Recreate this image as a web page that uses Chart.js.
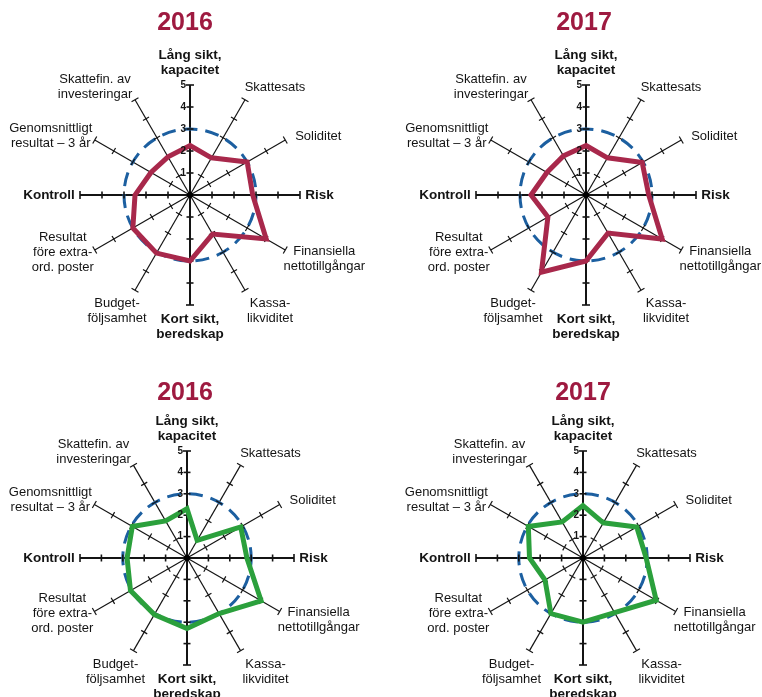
<!DOCTYPE html>
<html>
<head>
<meta charset="utf-8">
<script src="https://cdn.jsdelivr.net/npm/chart.js@4.4.1/dist/chart.umd.min.js"></script>
<style>
  body { margin: 0; background: #fff; }
  #wrap { position: relative; width: 762px; height: 697px; background: #fff; }
  canvas { position: absolute; }
</style>
</head>
<body>
<div id="wrap">
  <canvas id="c1" width="381" height="348" style="left:0;top:0"></canvas>
  <canvas id="c2" width="381" height="348" style="left:381px;top:0"></canvas>
  <canvas id="c3" width="381" height="348" style="left:0;top:349px"></canvas>
  <canvas id="c4" width="381" height="348" style="left:381px;top:349px"></canvas>
</div>
<script>
// axes, clockwise from the top
const labels = [
  ['Lång sikt,', 'kapacitet'],
  ['Skattesats'],
  ['Soliditet'],
  ['Risk'],
  ['Finansiella', 'nettotillgångar'],
  ['Kassa-', 'likviditet'],
  ['Kort sikt,', 'beredskap'],
  ['Budget-', 'följsamhet'],
  ['Resultat', 'före extra-', 'ord. poster'],
  ['Kontroll'],
  ['Genomsnittligt', 'resultat – 3 år'],
  ['Skattefin. av', 'investeringar']
];
const boldLabels = [0, 3, 6, 9];
const tickValues = [1, 2, 3, 4, 5];
const referenceLevel = 3;

const redValues2016 = [2.25, 1.95, 3.0, 2.85, 4.0, 2.05, 3.0, 3.05, 3.0, 2.5, 2.05, 2.0];
const redValues2017 = [2.25, 1.95, 2.95, 2.85, 4.0, 2.0, 3.0, 4.05, 2.0, 2.5, 2.05, 2.05];
const greenValues2016 = [2.3, 0.95, 2.9, 2.8, 4.0, 3.0, 3.3, 3.05, 3.05, 2.8, 2.95, 2.0];
const greenValues2017 = [2.45, 1.9, 2.9, 2.95, 3.95, 2.95, 3.0, 3.0, 2.05, 2.5, 2.95, 1.95];

const RED = '#a8284b';
const GREEN = '#2ba03c';
const BLUE = '#1c5fa0';
const TITLE = '#9e1a40';
const INK = '#141414';
const FONT = '"Liberation Sans", Arial, sans-serif';

// nudges of each label block centre from the end of its spoke
const labelNudge = [
  [0, -22.5], [30, -12], [33, -4], [19.5, 0], [39, 8.5], [25, 21],
  [0, 22], [-18, 21], [-32, 2], [-31, 0], [-44, -4.5], [-40, -13]
];

const radarDecor = {
  id: 'radarDecor',
  beforeDatasetsDraw(chart) {
    const s = chart.scales.r;
    const ctx = chart.ctx;
    ctx.save();
    // dashed reference circle
    ctx.strokeStyle = BLUE;
    ctx.lineWidth = 3;
    ctx.setLineDash([14, 8]);
    ctx.lineDashOffset = 4;
    ctx.beginPath();
    ctx.arc(s.xCenter, s.yCenter, s.getDistanceFromCenterForValue(referenceLevel), 0, Math.PI * 2);
    ctx.stroke();
    ctx.setLineDash([]);

    // small cross ticks on every spoke
    ctx.strokeStyle = INK;
    labels.forEach((_, i) => {
      const a = s.getIndexAngle(i) - Math.PI / 2;
      const nx = -Math.sin(a), ny = Math.cos(a);
      tickValues.forEach(v => {
        const p = s.getPointPositionForValue(i, v);
        const h = v === 5 ? 4 : 3.5;
        ctx.lineWidth = i % 3 === 0 ? 1.6 : 1.2;
        ctx.beginPath();
        ctx.moveTo(p.x - nx * h, p.y - ny * h);
        ctx.lineTo(p.x + nx * h, p.y + ny * h);
        ctx.stroke();
      });
    });
    ctx.restore();
  },
  afterDatasetsDraw(chart, args, opts) {
    const s = chart.scales.r;
    const ctx = chart.ctx;
    ctx.save();
    // centre dot
    ctx.fillStyle = '#000';
    ctx.beginPath();
    ctx.arc(s.xCenter, s.yCenter, 3, 0, Math.PI * 2);
    ctx.fill();

    // scale numbers beside the top spoke
    ctx.font = 'bold 10px ' + FONT;
    ctx.textAlign = 'right';
    ctx.textBaseline = 'middle';
    ctx.fillStyle = INK;
    tickValues.forEach(v => {
      const p = s.getPointPositionForValue(0, v);
      ctx.fillText(String(v), p.x - 4, p.y);
    });

    // axis names
    ctx.textAlign = 'center';
    labels.forEach((lines, i) => {
      const end = s.getPointPositionForValue(i, 5);
      const cx = end.x + labelNudge[i][0];
      const cy = end.y + labelNudge[i][1];
      const lh = 15;
      ctx.font = (boldLabels.includes(i) ? 'bold 13.5px ' : '13px ') + FONT;
      lines.forEach((t, k) => {
        ctx.fillText(t, cx, cy + (k - (lines.length - 1) / 2) * lh);
      });
    });

    // year heading
    ctx.font = 'bold 25px ' + FONT;
    ctx.fillStyle = TITLE;
    ctx.fillText(opts.title, opts.titleX, opts.titleY);
    ctx.restore();
  }
};

function makeRadar(id, values, color, title, g) {
  const W = 381, H = 348;
  return new Chart(document.getElementById(id), {
    type: 'radar',
    data: {
      labels: labels,
      datasets: [{
        data: values,
        borderColor: color,
        borderWidth: 5,
        backgroundColor: 'transparent',
        fill: false,
        pointRadius: 0,
        pointHoverRadius: 0,
        borderJoinStyle: 'miter'
      }]
    },
    options: {
      responsive: false,
      animation: false,
      devicePixelRatio: 1,
      layout: {
        padding: { left: g.cx - g.r, right: W - g.cx - g.r, top: g.cy - g.r, bottom: H - g.cy - g.r }
      },
      plugins: {
        legend: { display: false },
        tooltip: { enabled: false },
        radarDecor: { title: title, titleX: g.tx, titleY: g.ty }
      },
      scales: {
        r: {
          min: 0,
          max: 5,
          ticks: { display: false, stepSize: 1 },
          grid: { display: false },
          pointLabels: { display: false },
          angleLines: {
            display: true,
            color: INK,
            lineWidth: c => (c.index % 3 === 0 ? 2 : 1.2)
          }
        }
      }
    },
    plugins: [radarDecor]
  });
}

makeRadar('c1', redValues2016, RED, '2016', { cx: 190, cy: 195, r: 110, tx: 185, ty: 23 });
makeRadar('c2', redValues2017, RED, '2017', { cx: 205, cy: 195, r: 110, tx: 203, ty: 23 });
makeRadar('c3', greenValues2016, GREEN, '2016', { cx: 187, cy: 209, r: 107, tx: 185, ty: 44 });
makeRadar('c4', greenValues2017, GREEN, '2017', { cx: 202, cy: 209, r: 107, tx: 202, ty: 44 });
</script>
</body>
</html>
